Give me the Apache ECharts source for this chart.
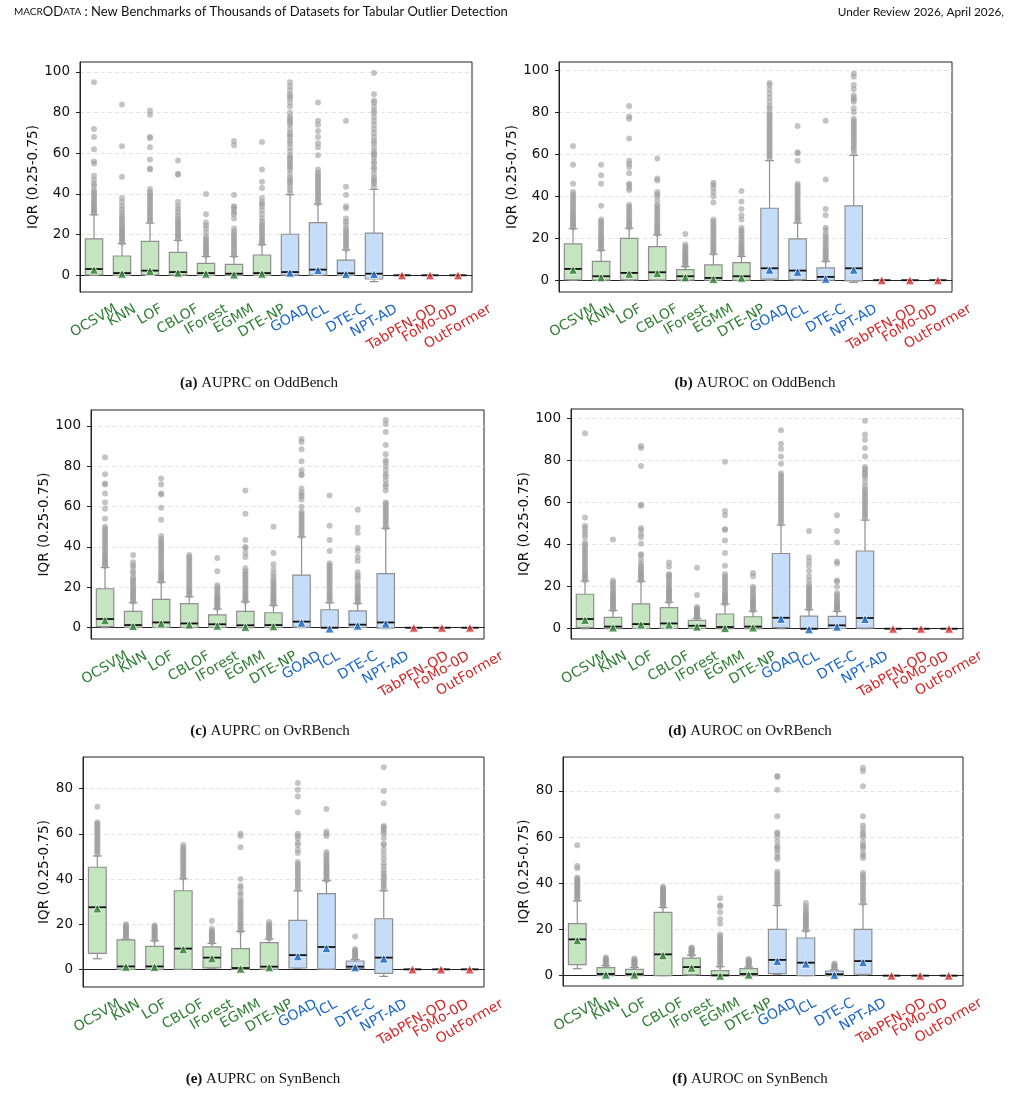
<!DOCTYPE html>
<html>
<head>
<meta charset="utf-8">
<script src="https://cdn.jsdelivr.net/npm/echarts@6/dist/echarts.min.js"></script>
<style>
  html, body { margin: 0; background: #fff; }
  #chart { width: 1018px; height: 1094px; }
</style>
</head>
<body>
<div id="chart"></div>
<script>
// methods and their family (g = classic, b = deep, r = foundation)
var methods = ['OCSVM', 'KNN', 'LOF', 'CBLOF', 'IForest', 'EGMM', 'DTE-NP', 'GOAD', 'ICL', 'DTE-C', 'NPT-AD', 'TabPFN-OD', 'FoMo-0D', 'OutFormer'];
var family  = ['g', 'g', 'g', 'g', 'g', 'g', 'g', 'b', 'b', 'b', 'b', 'r', 'r', 'r'];
var yTicks100 = [0, 20, 40, 60, 80, 100];
var yTicks80  = [0, 20, 40, 60, 80];
var zero = [0, 0, 0, 0, 0];

// [whisker low, Q1, median, Q3, whisker high]
var aStats = [[0,0.2,3.1,17.9,29.8],[0,0,1.1,9.5,15.6],[0,0.2,2.3,16.7,25.7],[0,0.1,1.6,11.3,17.2],[0,0,1.1,5.9,9.3],[0,0,0.8,5.4,9.3],[0,0,1.1,10,15.1],[0,0.1,1.6,20.2,39.7],[0,0.1,2.8,25.9,35.1],[0,0,1,7.5,12.5],[-3.1,-1.8,0.8,20.8,42.3],zero,zero,zero];
var aMeans = [2.8, 0.8, 2.2, 1.3, 0.8, 0.4, 0.8, 1.3, 2.6, 0.6, 0.6, 0, 0, 0];
var aOut = [
  [30.5,31,31.8,32.5,33,33.8,34.5,35.2,36,37,38,39,40,41,42,44,45,47,49,55,56,62,68,72,95],
  [16,16.8,17.5,18.2,19,19.8,20.5,21.3,22,22.8,23.5,24.5,25.5,26.5,27.5,28.5,29.5,31,32.5,34,36,38,48.5,63.5,84],
  [26.5,27.3,28,29,30,31,32,33,34,35,36,37,38,39,40,41,42.5,52,52.5,57,63,67.5,68,79,81],
  [17.8,18.5,19.3,20,21,22,23,24,25,26,27,28,29.5,31,32.5,34,36,49.5,50,56.5],
  [9.8,10.5,11.2,12,12.8,13.5,14.2,15,16,17,18,19,21,23,24.5,26,30,40],
  [9.8,10.5,11.5,12.5,13.5,14.5,15.5,16.5,17.5,18.5,19.5,20.5,21.5,23,28,30,31,32.5,33.5,34,39.5,64,66],
  [15.5,16.3,17,18,19,20,21,22,23,24,25,26.5,28,30,32,34,35,36,38,43,46,52,65.5],
  [40.5,42,43.5,45,46,47,48,50,52,53,54,55,56,57.5,58,59,61,63,65,66,68,69,70,72,74,75,76,77,78,80,83,85,87,88,89,91,93,95],
  [35.5,36.5,37.5,38.5,39.5,40.5,41.5,42.5,43.5,44.5,45.5,46.5,47.5,48.5,49.5,50.5,52,59,63,65,68,71,74,76,85],
  [13,14,15,16,17,18,19,20,21,22,23,25,26.5,28,33,34,39.5,43.5,76],
  [43.5,45,46,47,48,50,52,53,55,56,58,59,60,61,63,65,66,68,70,72,74,76,78,80,81,83,85,86,89,99.5],
  [], [], []
];

var bStats = [[0,0.2,5.4,17.3,24.6],[0,0.1,1.9,9,14.3],[0,0.2,3.5,20,24.8],[0,0.1,3.8,16,21.7],[0,0.1,1.9,5.1,6.5],[0,0,1.1,7.3,12.5],[0,0,1.9,8.4,11.4],[0,0.5,5.7,34.3,57],[0,0.3,4.6,19.7,27.3],[0,0,1.6,5.9,9],[-1,-0.3,5.7,35.4,59.5],zero,zero,zero];
var bMeans = [5.0, 1.4, 3.1, 3.4, 1.4, 0.6, 1.2, 5.0, 4.0, 0.7, 5.0, 0, 0, 0];
var bOut = [
  [25,25.7,26.4,27.2,28,28.8,29.6,30.4,31.2,32,33,34,35,36,37,38,39,40,41,42,46,55,64],
  [14.8,15.5,16.2,17,17.8,18.6,19.4,20.2,21,22,23,24,25,26,27,28,29,35.5,46,50,55],
  [25,25.8,26.6,27.4,28.2,29,30,31,32,33,34,35,36,43,44,45.5,46,51,54,55.5,57,67.5,77,78,83],
  [22,22.8,23.6,24.4,25.2,26,27,28,29,30,31,32,33,34,35,36,38,40,41,42,47.5,48.5,58],
  [7,7.6,8.2,8.8,9.4,10,10.6,11.2,11.8,12.4,13,13.8,14.6,15.4,16.2,17,22],
  [13,13.8,14.6,15.4,16.2,17,18,19,20,21,22,23,24,25,26,27,28,29,37,40,42,44,45.5,46.5],
  [12,12.7,13.4,14.1,14.8,15.5,16.2,17,18,19,20,21,22,23,24,25,29,31,34,37.5,42.5],
  [58,59,60,61,62,63,64,65,66,67,68,69,70,71,72,73,74,75,76,77,78,79,80,82,83,85,87,89,91,93,94],
  [28,28.8,29.6,30.4,31.2,32,33,34,35,36,37,38,39,40,41,42,43,44,45,46,57,60.5,61,73.5],
  [9.5,10.2,11,11.8,12.6,13.4,14.2,15,16,17,18,19,20,21,22,24,25,31,34,48,76],
  [60.5,62,63,64,65,66,67,68,69,70,71,72,73,74,75,76,77,80,82,85,86,87,88,91,93,97,98.5],
  [], [], []
];

var cStats = [[0,0.5,4.3,19.3,29.9],[0,0.2,1.3,8.1,12.4],[0,0.1,2.6,14,22.6],[0,0.1,2.1,11.9,15.4],[0,0.1,1.7,6.4,9.3],[0,0,1.2,8.1,12.9],[0,0.1,1.3,7.4,11.1],[0,0.3,3,26.1,45],[0,-0.1,0,8.9,12.4],[0,0.1,1.5,8.3,12],[-0.5,-0.2,2.6,26.8,49.3],zero,zero,zero];
var cMeans = [3.7, 0.8, 2.1, 1.6, 1.0, 0.4, 0.7, 2.5, -0.4, 1.0, 2.0, 0, 0, 0];
var cOut = [
  [30.5,31.2,32,32.8,33.6,34.4,35.2,36,37,38,39,40,41,42,43,44,45,46,47,48,49,50,54,59,62,66.5,71,71.5,76,84.5],
  [12.8,13.5,14.2,15,15.8,16.6,17.4,18.2,19,20,21,22,23,24,25,27,28,30,31,32.5,36],
  [23,23.8,24.6,25.4,26.2,27,28,29,30,31,32,33,34,35,36,37,38,39,40,41,42,43,44,45.5,53.5,59.5,66,66.5,71,74],
  [16,16.8,17.6,18.4,19.2,20,21,22,23,24,25,26,27,28,29,30,31,32,33,34,35,36],
  [9.8,10.4,11,11.6,12.2,12.8,13.4,14,14.6,15.2,16,17,18,19,20,21,28,34.5],
  [13,13.8,14.6,15.4,16.2,17,18,19,20,21,22,23,24,25,26,27,28,29.5,35,37,39.5,40,43.5,56.5,68],
  [11.5,12.2,12.9,13.6,14.3,15,15.7,16.5,17.3,18.2,19.1,20,21,22,23,24,25.5,27,29,31.5,37,50],
  [45.5,46.5,47.5,48.5,49.5,50.5,51.5,52.5,53.5,54.5,55.5,56.5,57.5,60,63.5,65,66,67,69,75.5,76,78,82.5,88.5,92,93.5],
  [13,13.8,14.6,15.4,16.2,17,18,19,20,21,22,23,24,25,26,27,28,29,30,31,32,38,43.5,50.5,65.5],
  [12.5,13.2,13.9,14.6,15.3,16,17,18,19,20,21,22,24,25,26,27.5,33,35,38,39.5,47,49.5,58.5],
  [49.5,50.5,51.5,52.5,53.5,54.5,55.5,56.5,57.5,58.5,59.5,60.5,61.5,62,68,70,71,73,75,76,78,80,82,83,86,90.5,97,101,103],
  [], [], []
];

var dStats = [[0,0.5,4.6,16.4,22.7],[0,0,1,5.4,8.7],[0,0.1,2.2,11.8,22.6],[0,0.1,2.5,10,12.6],[0,0.1,1.4,4,4.9],[0,0,0.8,7,11.8],[0,0,1,5.7,8.4],[0,0.5,5.2,35.8,49.4],[0,-0.1,0,6,9.1],[0,0.1,1.6,5.9,8.3],[0,0.3,5.1,37,51.7],zero,zero,zero];
var dMeans = [4.2, 0.6, 2.0, 2.0, 1.0, 0.3, 0.6, 4.7, -0.3, 1.0, 4.6, 0, 0, 0];
var dOut = [
  [23,23.8,24.6,25.4,26.2,27,28,29,30,31,32,33,34,35,36,37,38,39,40,41,43.5,45,46.5,48,49,53,93],
  [9,9.6,10.2,10.8,11.4,12,12.6,13.2,13.8,14.4,15,15.7,16.4,17.1,17.8,19,20,21,22,23,42.5],
  [23,23.7,24.4,25.1,25.8,26.5,27.2,28,29,30,31,33,35,35.5,40.5,43.5,45,47,48,58.5,59,77.5,86,87],
  [13,13.6,14.2,14.8,15.4,16,16.6,17.2,17.8,18.5,19.2,20,21,22,23,24,25,25.5,26,29.5,31.5],
  [5.2,5.7,6.2,6.7,7.2,7.7,8.2,8.7,9.2,9.7,10.3,16,29],
  [12,12.7,13.4,14.1,14.8,15.5,16.2,17,18,19,20,21,22,23,24,25,26,30,36,42,47,47.5,54,56,79.5],
  [8.8,9.4,10,10.6,11.2,11.8,12.4,13,13.6,14.3,15,16,17,18,19,20,25,26.5],
  [50,51,52,53,54,55,56,57,58,59,60,61,62,63,64,65,66,67,68,69,70,71,72,73,74,78.5,82,85.5,88,94.5],
  [9.5,10.1,10.7,11.3,11.9,12.5,13.1,13.7,14.3,15,15.7,16.4,17.1,17.8,18.5,19.2,20,21,23,25,27.5,30,32,34,46.5],
  [8.8,9.3,9.8,10.3,10.8,11.3,11.8,12.5,13.2,14,15,16,17,20,22.5,23,31,32,41,46.5,54],
  [52.5,53.5,54.5,55.5,56.5,57.5,58.5,59.5,60.5,61.5,62.5,63.5,64.5,65.5,66.5,68,70,72,73,74,75,76,77,82,86,90,92.5,99],
  [], [], []
];

var eStats = [[4.7,7.1,27.5,45.2,50.2],[0,0,1.3,13.1,13.4],[0,0,1.3,10.2,12.7],[0,0,9.2,34.8,40.1],[0.5,0.7,5.2,10,11.5],[0,0,0.6,9.2,16.8],[0,0,1.2,11.8,13.4],[0.5,0.6,6.3,21.7,34.8],[0,0.1,9.9,33.5,39.3],[0.2,0.3,1.2,3.7,4.4],[-3.1,-1.8,5.2,22.4,34.8],zero,zero,zero];
var eMeans = [27.0, 1.2, 1.1, 8.9, 4.9, 0.3, 0.9, 5.8, 9.4, 0.9, 4.8, 0, 0, 0];
var eOut = [
  [51,51.8,52.6,53.4,54.2,55,55.8,56.6,57.4,58.2,59,59.8,60.6,61.4,62.2,63,63.8,64.6,65,72],
  [14,14.5,15,15.5,16,16.5,17,17.5,18,18.5,19,19.5,20],
  [13,13.5,14,14.5,15,15.5,16,16.5,17,17.5,18,18.5,19,19.5],
  [40.5,41.2,42,42.8,43.6,44.4,45.2,46,46.8,47.6,48.4,49.2,50,50.8,51.6,52.4,53.2,54,55],
  [12,12.5,13,13.5,14,14.5,15,15.5,16,16.5,17,18,21.5],
  [17,17.8,18.6,19.4,20.2,21,22,23,24,25,26,27,28,29,30,31,33,34,36,37,40,54,59,60],
  [13.8,14.3,14.8,15.3,15.8,16.3,16.8,17.3,17.8,18.3,18.8,19.3,20,21],
  [35.5,36.5,37.5,38.5,39.5,40.5,41.5,42.5,43.5,44.5,45.5,46.5,47.5,51.5,53,55,56,58,59,60,69.5,76.5,79.5,82.5],
  [39.5,40.2,40.9,41.6,42.3,43,43.7,44.4,45.1,45.8,46.5,47.3,48.1,49,50,51,52,59,60,61,71],
  [4.8,5.4,6,6.6,7.2,7.8,8.4,9,14.5],
  [35.5,36.5,37.5,38.5,39.5,40.5,41.5,42.5,44,45.5,47,49,51,53,55,55.5,58,60,61,62,63,63.5,73.5,79,89.5],
  [], [], []
];

var fStats = [[3,4.8,15.7,22.5,32.4],[0,0,0.7,3.5,4.3],[0,0,0.6,2.7,3.5],[0,0,9.2,27.4,29.5],[0.2,0.3,3.7,7.6,8.8],[0,0,0.1,2.2,3.9],[0,0,0.7,3,3.7],[0.5,0.9,6.8,20,30.4],[0,0,5.6,16.3,19.3],[0,0,0.6,2,2.5],[0.3,0.6,6.3,20,31],zero,zero,zero];
var fMeans = [15.3, 0.4, 0.4, 8.8, 3.4, -0.1, 0.4, 6.3, 5.2, 0.3, 5.8, 0, 0, 0];
var fOut = [
  [33,33.6,34.2,34.8,35.4,36,36.6,37.2,37.8,38.4,39,39.6,40.2,40.8,41.4,42,42.5,46.5,47.5,56.5],
  [4.6,5,5.4,5.8,6.2,6.6,7,7.4,7.8],
  [3.8,4.2,4.6,5,5.4,5.8,6.2,6.6,7,7.4],
  [30,30.5,31,31.5,32,32.5,33,33.5,34,34.5,35,35.5,36,36.5,37,37.5,38,38.5],
  [9,9.4,9.8,10.2,10.6,11,11.4,11.8,12.2],
  [4.2,5,5.8,6.6,7.4,8.2,9,9.8,10.6,11.4,12.2,13,13.8,14.6,15.4,16.2,17,17.8,22.5,24.5,27.5,30,30.5,33.5],
  [4,4.4,4.8,5.2,5.6,6,6.4,6.8,7.2],
  [31,32,33,34,35,36,37,38,39,40,41,42,43,44,45,50.5,51.5,53,54.5,55.5,56,58,60,61.5,62,69,80.5,86,86.5],
  [19.8,20.4,21,21.6,22.2,22.8,23.4,24,24.6,25.2,25.8,26.4,27,28,29,30,31.5],
  [2.8,3.2,3.6,4,4.4,4.8,5.2],
  [31.5,32.5,33.5,34.5,35.5,36.5,37.5,38.5,39.5,40.5,41.5,42.5,43.5,44.5,51,52,53,55,56,56.5,58,60,61,62,63.5,65,69,82,88.5,90],
  [], [], []
];

var boxFill = { g: '#c4e5bf', b: '#c6ddf9', r: '#f5c6c6' };
var markColor = { g: '#2e7d32', b: '#1565c0', r: '#d32f2f' };
var labelColor = { g: '#2e7d32', b: '#1a66cc', r: '#d62728' };
var FONT = 'DejaVu Sans';
var LABEL_SIZE = 14;

var panels = [
  { stats: aStats, means: aMeans, out: aOut, min: -8.2, max: 104.9, ticks: yTicks100, rect: [80, 62, 392, 230] },
  { stats: bStats, means: bMeans, out: bOut, min: -5.6, max: 104,   ticks: yTicks100, rect: [559, 62, 393, 230] },
  { stats: cStats, means: cMeans, out: cOut, min: -5.6, max: 107.9, ticks: yTicks100, rect: [91, 410, 393, 229] },
  { stats: dStats, means: dMeans, out: dOut, min: -4.9, max: 104.6, ticks: yTicks100, rect: [571, 409, 392, 230] },
  { stats: eStats, means: eMeans, out: eOut, min: -7.8, max: 94.0,  ticks: yTicks80,  rect: [83, 757, 401, 230] },
  { stats: fStats, means: fMeans, out: fOut, min: -4.5, max: 94.7,  ticks: yTicks80,  rect: [563, 757, 400, 229] }
];

var captions = [
  ['(a)', 'AUPRC on OddBench', 259, 383],
  ['(b)', 'AUROC on OddBench', 755, 383],
  ['(c)', 'AUPRC on OvRBench', 270, 731],
  ['(d)', 'AUROC on OvRBench', 750, 731],
  ['(e)', 'AUPRC on SynBench', 263, 1079],
  ['(f)', 'AUROC on SynBench', 750, 1079]
];

function renderBox(params, api) {
  var idx = api.value(0);
  var band = api.size([1, 0])[0];
  var w = band * 0.62;
  var cx = api.coord([idx, 0])[0];
  var yLo = api.coord([idx, api.value(1)])[1];
  var yQ1 = api.coord([idx, api.value(2)])[1];
  var yMed = api.coord([idx, api.value(3)])[1];
  var yQ3 = api.coord([idx, api.value(4)])[1];
  var yHi = api.coord([idx, api.value(5)])[1];
  var grey = { stroke: '#8f8f8f', lineWidth: 1.2 };
  return {
    type: 'group',
    children: [
      { type: 'line', shape: { x1: cx, y1: yLo, x2: cx, y2: yQ1 }, style: grey },
      { type: 'line', shape: { x1: cx, y1: yQ3, x2: cx, y2: yHi }, style: grey },
      { type: 'line', shape: { x1: cx - w / 4, y1: yLo, x2: cx + w / 4, y2: yLo }, style: grey },
      { type: 'line', shape: { x1: cx - w / 4, y1: yHi, x2: cx + w / 4, y2: yHi }, style: grey },
      { type: 'rect', shape: { x: cx - w / 2, y: yQ3, width: w, height: yQ1 - yQ3 },
        style: { fill: boxFill[family[idx]], stroke: '#8f8f8f', lineWidth: 1.2 } },
      { type: 'line', shape: { x1: cx - w / 2, y1: yMed, x2: cx + w / 2, y2: yMed },
        style: { stroke: '#111', lineWidth: 1.8 } }
    ]
  };
}

var grids = [], xAxes = [], yAxes = [], series = [];

panels.forEach(function (p, i) {
  grids.push({
    left: p.rect[0], top: p.rect[1], width: p.rect[2], height: p.rect[3],
    show: true, borderColor: '#222', borderWidth: 1, backgroundColor: 'transparent'
  });
  xAxes.push({
    type: 'category', gridIndex: i, data: methods,
    axisLine: { lineStyle: { color: '#222', width: 1 } },
    axisTick: { alignWithLabel: true, length: 4, lineStyle: { color: '#222' } },
    axisLabel: { show: false },
    splitLine: { show: false }
  });
  yAxes.push({
    type: 'value', gridIndex: i, min: p.min, max: p.max,
    name: 'IQR (0.25-0.75)', nameLocation: 'middle', nameGap: 30, nameRotate: 90,
    nameTextStyle: { fontSize: 13.5, fontFamily: FONT, color: '#111' },
    axisLine: { show: true, lineStyle: { color: '#222', width: 1 } },
    axisTick: { show: true, length: 4, lineStyle: { color: '#222' }, customValues: p.ticks },
    axisLabel: { fontSize: 13.5, fontFamily: FONT, color: '#111', margin: 10, customValues: p.ticks },
    splitLine: { show: true, lineStyle: { color: '#e3e3e3', type: [4, 3], width: 1 } }
  });

  series.push({
    type: 'custom', xAxisIndex: i, yAxisIndex: i,
    renderItem: renderBox,
    encode: { x: 0, y: [1, 2, 3, 4, 5] },
    data: p.stats.map(function (s, k) { return [k].concat(s); }),
    z: 2
  });

  var outPts = [];
  p.out.forEach(function (list, k) {
    list.forEach(function (v) { outPts.push([k, v]); });
  });
  series.push({
    type: 'scatter', xAxisIndex: i, yAxisIndex: i,
    symbolSize: 6,
    itemStyle: { color: '#9c9c9c', opacity: 0.6 },
    data: outPts, z: 3
  });

  series.push({
    type: 'scatter', xAxisIndex: i, yAxisIndex: i,
    symbol: 'triangle', symbolSize: 9,
    data: p.means.map(function (m, k) {
      return { value: [k, m], itemStyle: { color: markColor[family[k]], borderColor: '#fff', borderWidth: 1 } };
    }),
    z: 4
  });
});

var chart = echarts.init(document.getElementById('chart'));
chart.setOption({
  animation: false,
  backgroundColor: '#fff',
  textStyle: { fontFamily: FONT },
  grid: grids,
  xAxis: xAxes,
  yAxis: yAxes,
  series: series
});

// rotated tick labels, centred under each tick like matplotlib's rotation=30
var ctx = document.createElement('canvas').getContext('2d');
ctx.font = LABEL_SIZE + 'px "' + FONT + '"';
var rot = Math.PI / 6;
var graphics = [];

panels.forEach(function (p, i) {
  var bottom = p.rect[1] + p.rect[3];
  methods.forEach(function (m, k) {
    var tx = chart.convertToPixel({ xAxisIndex: i }, m);
    var L = ctx.measureText(m).width;
    var H = L * Math.sin(rot) + LABEL_SIZE * 1.17 * Math.cos(rot);
    graphics.push({
      type: 'text', x: tx, y: bottom + 9 + H / 2, rotation: rot,
      style: {
        text: m, align: 'center', verticalAlign: 'middle',
        font: LABEL_SIZE + 'px "' + FONT + '"', fill: labelColor[family[k]]
      }
    });
  });
});

captions.forEach(function (c) {
  graphics.push({
    type: 'text', x: c[2], y: c[3],
    style: {
      text: '{b|' + c[0] + '} ' + c[1],
      align: 'center', verticalAlign: 'middle',
      font: '15px "Liberation Serif"', fill: '#111',
      rich: { b: { fontWeight: 'bold', fontSize: 15, fontFamily: 'Liberation Serif', fill: '#111' } }
    }
  });
});

graphics.push({
  type: 'text', x: 14, y: 12,
  style: {
    text: '{s|MACR}{n|OD}{s|ATA}{n| : New Benchmarks of Thousands of Datasets for Tabular Outlier Detection}',
    verticalAlign: 'middle', fill: '#111',
    rich: {
      s: { fontSize: 10, fontFamily: 'Lato', fill: '#111' },
      n: { fontSize: 13, fontFamily: 'Lato', fill: '#111' }
    }
  }
});
graphics.push({
  type: 'text', x: 1004, y: 12,
  style: {
    text: 'Under Review 2026, April 2026,', align: 'right', verticalAlign: 'middle',
    font: '11.8px Lato', fill: '#111'
  }
});

chart.setOption({ graphic: { elements: graphics } });
</script>
</body>
</html>
